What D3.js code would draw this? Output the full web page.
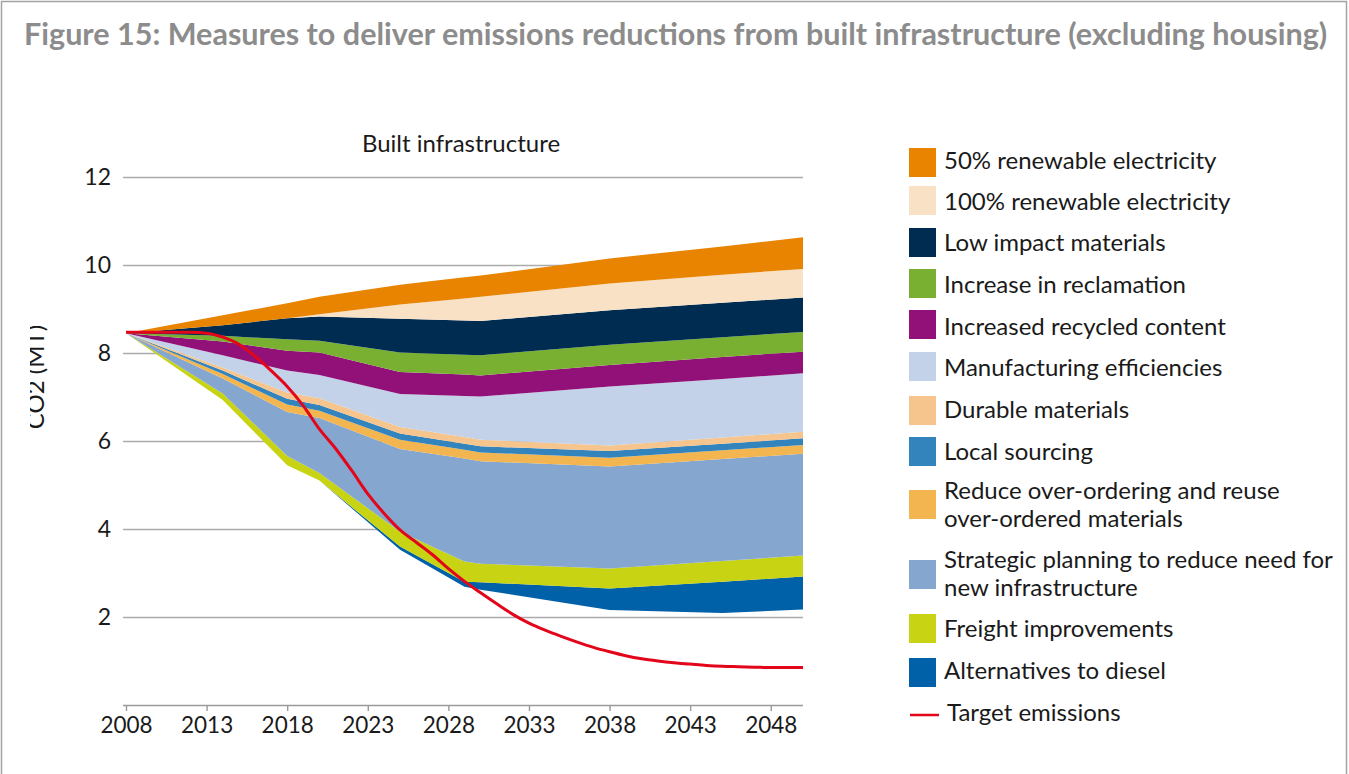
<!DOCTYPE html>
<html>
<head>
<meta charset="utf-8">
<script src="https://cdn.jsdelivr.net/npm/d3@7"></script>
<style>
  html, body { margin: 0; padding: 0; background: #ffffff; }
  svg { display: block; font-family: "Lato", "Noto Sans", sans-serif; }
</style>
</head>
<body>
<svg id="chart" width="1349" height="774"></svg>
<script>
// Years at which the stacked measures are defined (straight segments in between)
const years = [2008, 2014, 2018, 2020, 2025, 2029, 2030, 2038, 2045, 2050];

// Emissions remaining after all measures (invisible base of the stack), Mt CO2
const remainingEmissions        = [8.45, 6.93, 5.45, 5.10, 3.53, 2.69, 2.62, 2.16, 2.09, 2.17];
// Reductions delivered by each measure, Mt CO2
const alternativesToDiesel      = [0, 0,    0,    0,    0.07, 0.11, 0.17, 0.49, 0.71, 0.75];
const freightImprovements       = [0, 0.15, 0.21, 0.17, 0.34, 0.46, 0.42, 0.45, 0.47, 0.48];
const strategicPlanning         = [0, 0.34, 1.00, 1.25, 1.88, 2.34, 2.33, 2.32, 2.32, 2.31];
const reduceOverOrdering        = [0, 0.10, 0.17, 0.17, 0.21, 0.20, 0.20, 0.20, 0.20, 0.20];
const localSourcing             = [0, 0.08, 0.13, 0.13, 0.14, 0.14, 0.14, 0.15, 0.15, 0.15];
const durableMaterials          = [0, 0.07, 0.14, 0.15, 0.15, 0.15, 0.15, 0.13, 0.14, 0.15];
const manufacturingEfficiencies = [0, 0.28, 0.50, 0.53, 0.75, 0.93, 0.98, 1.34, 1.33, 1.33];
const increasedRecycledContent  = [0, 0.31, 0.45, 0.51, 0.50, 0.49, 0.48, 0.49, 0.50, 0.49];
const increaseInReclamation     = [0, 0.13, 0.26, 0.27, 0.44, 0.45, 0.46, 0.46, 0.45, 0.45];
const lowImpactMaterials        = [0, 0.24, 0.48, 0.55, 0.77, 0.78, 0.78, 0.78, 0.78, 0.78];
const renewable100              = [0, 0,    0,    0.05, 0.32, 0.50, 0.55, 0.61, 0.64, 0.65];
const renewable50               = [0, 0.23, 0.34, 0.40, 0.45, 0.48, 0.48, 0.57, 0.64, 0.72];

// Target emissions trajectory, annual
const targetYears  = d3.range(2008, 2051);
const targetValues = [8.47, 8.47, 8.47, 8.47, 8.47, 8.45, 8.36, 8.20, 7.93, 7.60,
                      7.24, 6.80, 6.27, 5.83, 5.33, 4.80, 4.36, 3.98, 3.70, 3.42,
                      3.10, 2.81, 2.55, 2.30, 2.06, 1.86, 1.70, 1.56, 1.43, 1.31,
                      1.21, 1.12, 1.05, 1.00, 0.96, 0.93, 0.90, 0.88, 0.87, 0.86,
                      0.85, 0.85, 0.85];

// Axis ticks
const xTickYears = [2008, 2013, 2018, 2023, 2028, 2033, 2038, 2043, 2048];
const yTickValues = [2, 4, 6, 8, 10, 12];

// Texts
const figureTitle = "Figure 15: Measures to deliver emissions reductions from built infrastructure (excluding housing)";
const chartTitle = "Built infrastructure";
const yAxisTitle = "CO2 (MT)";

// Series, bottom of the stack first
const series = [
  { key: "base",   values: remainingEmissions,        label: null },
  { key: "diesel", values: alternativesToDiesel,      label: ["Alternatives to diesel"],                                  color: "#0061a8" },
  { key: "freight",values: freightImprovements,       label: ["Freight improvements"],                                    color: "#c8d314" },
  { key: "strat",  values: strategicPlanning,         label: ["Strategic planning to reduce need for", "new infrastructure"], color: "#85a6cf" },
  { key: "reduce", values: reduceOverOrdering,        label: ["Reduce over-ordering and reuse", "over-ordered materials"],   color: "#f2b54f" },
  { key: "local",  values: localSourcing,             label: ["Local sourcing"],                                          color: "#3384bd" },
  { key: "durable",values: durableMaterials,          label: ["Durable materials"],                                       color: "#f6c58e" },
  { key: "manuf",  values: manufacturingEfficiencies, label: ["Manufacturing efficiencies"],                              color: "#c3d2e8" },
  { key: "recyc",  values: increasedRecycledContent,  label: ["Increased recycled content"],                              color: "#911178" },
  { key: "reclam", values: increaseInReclamation,     label: ["Increase in reclamation"],                                 color: "#79b032" },
  { key: "lowimp", values: lowImpactMaterials,        label: ["Low impact materials"],                                    color: "#002c52" },
  { key: "ren100", values: renewable100,              label: ["100% renewable electricity"],                              color: "#f9e1c6" },
  { key: "ren50",  values: renewable50,               label: ["50% renewable electricity"],                               color: "#e88400" }
];
const targetColor = "#e3061b";

const svg = d3.select("#chart");

// Outer frame
svg.append("path")
  .attr("d", "M1.5,774 V1.5 H1346.5 V774")
  .attr("fill", "none").attr("stroke", "#a3a3a3").attr("stroke-width", 1.5);

// Figure title, fitted to the frame width
const titleText = svg.append("text")
  .attr("x", 24).attr("y", 45)
  .attr("fill", "#8c8c8c").attr("font-weight", "bold")
  .attr("font-size", 25)
  .text(figureTitle);
const tw = titleText.node().getComputedTextLength();
titleText.attr("font-size", 25 * 1304 / tw);

// Scales
const x = d3.scaleLinear().domain([2008, 2050]).range([126, 803]);
const y = d3.scaleLinear().domain([0, 12]).range([705, 177]);

// Horizontal gridlines and y tick labels
const yAxis = svg.append("g")
  .attr("transform", "translate(123,0)")
  .call(d3.axisLeft(y).tickValues(yTickValues).tickSize(-(803 - 123)).tickPadding(12).tickFormat(d3.format("d")));
yAxis.select(".domain").remove();
yAxis.selectAll(".tick line").attr("stroke", "#ababab").attr("stroke-width", 1.4);
yAxis.selectAll(".tick text")
  .attr("font-family", "Lato, 'Noto Sans', sans-serif")
  .attr("font-size", 23).attr("fill", "#1a1a1a");

// Stacked measures
const rows = years.map((yr, i) => {
  const r = { year: yr };
  series.forEach(s => { r[s.key] = s.values[i]; });
  return r;
});
const stacked = d3.stack().keys(series.map(s => s.key))(rows);

const area = d3.area()
  .x(d => x(d.data.year))
  .y0(d => y(d[0]))
  .y1(d => y(d[1]));

svg.append("g")
  .selectAll("path")
  .data(stacked.filter(l => l.key !== "base"))
  .join("path")
  .attr("d", area)
  .attr("fill", l => series.find(s => s.key === l.key).color);

// X axis
const xAxis = svg.append("g")
  .attr("transform", `translate(0,${y(0)})`)
  .call(d3.axisBottom(x).tickValues(xTickYears).tickFormat(d3.format("d"))
    .tickSize(6).tickSizeOuter(0).tickPadding(6));
xAxis.select(".domain").attr("stroke", "#9a9a9a").attr("stroke-width", 1.4)
  .attr("d", `M123,0.5H803`);
xAxis.selectAll(".tick line").attr("stroke", "#9a9a9a").attr("stroke-width", 1.4);
xAxis.selectAll(".tick text")
  .attr("font-family", "Lato, 'Noto Sans', sans-serif")
  .attr("font-size", 22.5).attr("fill", "#1a1a1a");

// Target emissions line
const line = d3.line()
  .x((d, i) => x(targetYears[i]))
  .y(d => y(d))
  .curve(d3.curveMonotoneX);
svg.append("path")
  .datum(targetValues)
  .attr("d", line)
  .attr("fill", "none")
  .attr("stroke", targetColor)
  .attr("stroke-width", 3);

// Chart title
svg.append("text")
  .attr("x", 461).attr("y", 152)
  .attr("text-anchor", "middle")
  .attr("font-size", 24).attr("fill", "#1a1a1a")
  .text(chartTitle);

// Y axis title, partly hidden by the left margin
svg.append("clipPath").attr("id", "ylabClip")
  .append("rect").attr("x", 30).attr("y", 250).attr("width", 40).attr("height", 250);
svg.append("g")
  .attr("clip-path", "url(#ylabClip)")
  .append("text")
  .attr("transform", "translate(44,377) rotate(-90)")
  .attr("text-anchor", "middle")
  .attr("font-size", 24).attr("fill", "#1a1a1a")
  .text(yAxisTitle);

// Legend, top of the stack first
const legendRows = [
  { key: "ren50",   swatchTop: 148,   baselines: [168.5] },
  { key: "ren100",  swatchTop: 186,   baselines: [210] },
  { key: "lowimp",  swatchTop: 228,   baselines: [251] },
  { key: "reclam",  swatchTop: 269,   baselines: [293] },
  { key: "recyc",   swatchTop: 310,   baselines: [334.5] },
  { key: "manuf",   swatchTop: 352,   baselines: [376] },
  { key: "durable", swatchTop: 396,   baselines: [417.5] },
  { key: "local",   swatchTop: 437,   baselines: [460] },
  { key: "reduce",  swatchTop: 490,   baselines: [498.5, 526.5] },
  { key: "strat",   swatchTop: 560,   baselines: [568, 596] },
  { key: "freight", swatchTop: 614,   baselines: [637] },
  { key: "diesel",  swatchTop: 658,   baselines: [679] }
];
const legend = svg.append("g");
legendRows.forEach(r => {
  const s = series.find(d => d.key === r.key);
  legend.append("rect")
    .attr("x", 909).attr("y", r.swatchTop)
    .attr("width", 27).attr("height", 29)
    .attr("fill", s.color);
  s.label.forEach((t, i) => {
    legend.append("text")
      .attr("x", 944).attr("y", r.baselines[i])
      .attr("font-size", 24).attr("fill", "#1a1a1a")
      .text(t);
  });
});
legend.append("line")
  .attr("x1", 910).attr("x2", 939).attr("y1", 715).attr("y2", 715)
  .attr("stroke", targetColor).attr("stroke-width", 2.5);
legend.append("text")
  .attr("x", 947).attr("y", 721)
  .attr("font-size", 24).attr("fill", "#1a1a1a")
  .text("Target emissions");
</script>
</body>
</html>
